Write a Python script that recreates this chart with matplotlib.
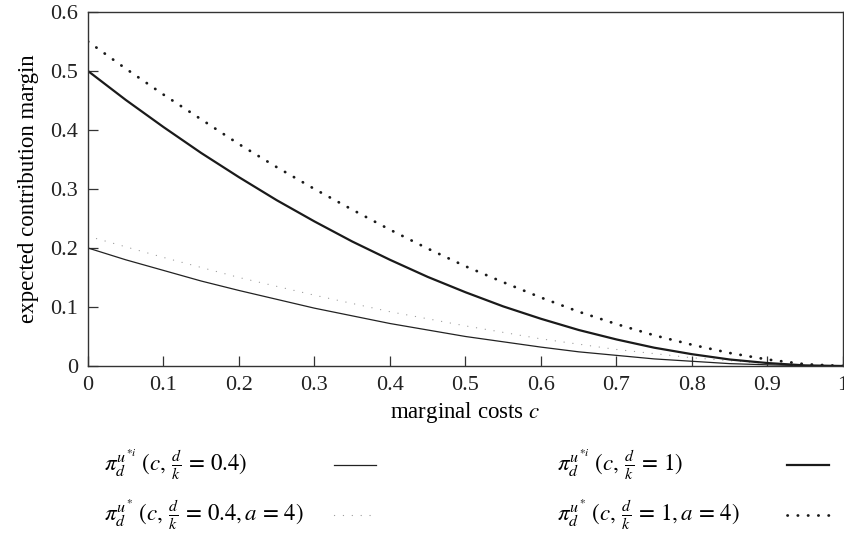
import numpy as np
import matplotlib
matplotlib.use("Agg")
import matplotlib.pyplot as plt
from matplotlib.lines import Line2D

plt.rcParams['font.family'] = 'Liberation Serif'
plt.rcParams['mathtext.fontset'] = 'stix'

# marginal costs c, step 0.05
COSTS = [0.0, 0.05, 0.1, 0.15, 0.2, 0.25, 0.3, 0.35, 0.4, 0.45, 0.5,
         0.55, 0.6, 0.65, 0.7, 0.75, 0.8, 0.85, 0.9, 0.95, 1.0]

# pi_d^{u*i}, d/k = 0.4
PI_UI_04 = [0.2, 0.180, 0.162, 0.144, 0.128, 0.113, 0.098, 0.085, 0.072, 0.061, 0.05,
            0.041, 0.032, 0.024, 0.018, 0.012, 0.008, 0.004, 0.002, 0.0005, 0.0]
# pi_d^{u*}, d/k = 0.4, a = 4
PI_U_04 = [0.22, 0.202, 0.184, 0.167, 0.150, 0.135, 0.120, 0.106, 0.092, 0.080, 0.068,
           0.057, 0.046, 0.037, 0.028, 0.021, 0.014, 0.009, 0.004, 0.001, 0.0]
# pi_d^{u*i}, d/k = 1
PI_UI_1 = [0.5, 0.451, 0.405, 0.361, 0.32, 0.281, 0.245, 0.211, 0.18, 0.151, 0.125,
           0.101, 0.08, 0.061, 0.045, 0.031, 0.02, 0.011, 0.005, 0.001, 0.0]
# pi_d^{u*}, d/k = 1, a = 4
PI_U_1 = [0.55, 0.504, 0.46, 0.418, 0.376, 0.337, 0.30, 0.265, 0.231, 0.199, 0.169,
          0.142, 0.116, 0.092, 0.071, 0.052, 0.036, 0.022, 0.011, 0.003, 0.0]

LABELS = [
    r"$\pi_d^{u^{*i}}\ (c,\, \frac{d}{k}\, =\, 0.4)$",
    r"$\pi_d^{u^{*}}\ (c,\, \frac{d}{k}\, =\, 0.4, a\, =\, 4)$",
    r"$\pi_d^{u^{*i}}\ (c,\, \frac{d}{k}\, =\, 1)$",
    r"$\pi_d^{u^{*}}\ (c,\, \frac{d}{k}\, =\, 1, a\, =\, 4)$",
]

STYLES = [
    dict(color='#222222', lw=0.9, ls='-'),
    dict(color='#9a9a9a', lw=0.9, ls=(0, (0.1, 7))),
    dict(color='#1a1a1a', lw=1.6, ls='-'),
    dict(color='#1a1a1a', lw=2.0, ls=(0, (0.1, 3.6))),
]

fig = plt.figure(figsize=(8.45, 5.35), dpi=100)
ax = fig.add_axes([0.1041, 0.3159, 0.8935, 0.6617])

for series, st in zip([PI_UI_04, PI_U_04, PI_UI_1, PI_U_1], STYLES):
    ax.plot(COSTS, series, solid_capstyle='butt', dash_capstyle='round', **st)

ax.set_xlim(0, 1)
ax.set_ylim(0, 0.6)
ax.set_xticks(np.arange(0, 1.01, 0.1))
ax.set_xticklabels(['0', '0.1', '0.2', '0.3', '0.4', '0.5', '0.6', '0.7', '0.8', '0.9', '1'])
ax.set_yticks(np.arange(0, 0.61, 0.1))
ax.set_yticklabels(['0', '0.1', '0.2', '0.3', '0.4', '0.5', '0.6'])
ax.tick_params(direction='in', length=7, width=0.9, labelsize=16,
               colors='#333333', labelcolor='#222222')
ax.tick_params(axis='x', pad=7)
ax.tick_params(axis='y', pad=7)
for sp in ax.spines.values():
    sp.set_color('#333333')
    sp.set_linewidth(1.0)

ax.set_xlabel(r"marginal costs $c$", fontsize=16.5, labelpad=4)
ax.set_ylabel("expected contribution margin", fontsize=16.5, labelpad=8)

# legend drawn by hand: two columns, label then line sample
rows_y = [1 - 465 / 535, 1 - 515 / 535]
cols = [(104 / 845, 334 / 845, 376 / 845), (557 / 845, 787 / 845, 829 / 845)]
for i, (lab, st) in enumerate(zip(LABELS, STYLES)):
    col = cols[i // 2]
    y = rows_y[i % 2]
    fig.text(col[0], y, lab, fontsize=16.5, va='center', ha='left')
    fig.add_artist(Line2D([col[1], col[2]], [y, y], transform=fig.transFigure,
                          dash_capstyle='round', **st))

fig.savefig("out.png", dpi=100)
